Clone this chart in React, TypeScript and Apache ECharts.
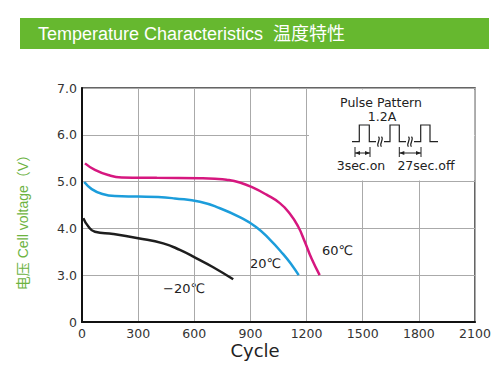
import React, { useEffect, useRef } from "react";
import * as echarts from "echarts";

const titleText = "Temperature Characteristics  温度特性";
const yAxisName = "电压 Cell voltage（V）";
const xAxisName = "Cycle";

// y axis is broken: 0 | 3.0 | 4.0 | 5.0 | 6.0 | 7.0 evenly spaced
const yTickLabels = ["0", "3.0", "4.0", "5.0", "6.0", "7.0"];

const cycles60 = [16, 69, 140, 212, 400, 630, 710, 772, 843, 914, 986, 1057, 1110, 1155, 1190, 1226, 1270];
const volts60 = [5.39, 5.25, 5.14, 5.09, 5.08, 5.07, 5.06, 5.04, 4.98, 4.87, 4.72, 4.54, 4.32, 4.04, 3.72, 3.36, 3.0];

const cycles20 = [12, 52, 105, 176, 300, 407, 496, 630, 737, 843, 930, 1004, 1075, 1119, 1158];
const volts20 = [4.99, 4.84, 4.74, 4.69, 4.68, 4.67, 4.64, 4.57, 4.43, 4.24, 4.03, 3.76, 3.45, 3.23, 3.0];

const cyclesM20 = [7, 34, 69, 167, 300, 434, 523, 612, 701, 808];
const voltsM20 = [4.22, 4.04, 3.93, 3.88, 3.79, 3.68, 3.54, 3.36, 3.17, 2.74];

const seriesNames = ["60℃", "20℃", "−20℃"];
const seriesColors = ["#d6177f", "#1c9ddb", "#1e1e1e"];

const FONT = "'Liberation Sans', 'Noto Sans CJK SC', Arial, sans-serif";
const WIDE = "'DejaVu Sans', 'Noto Sans CJK SC', sans-serif";

function toAxis(v: number): number {
  return v < 3 ? v / 3 : v - 2;
}

function pairs(xs: number[], ys: number[]) {
  return xs.map((x, i) => [x, toAxis(ys[i])]);
}

export default function App() {
  const ref = useRef<HTMLDivElement>(null);

  useEffect(() => {
    if (!ref.current) return;
    const chart = echarts.init(ref.current, undefined, { renderer: "svg" });

    const datasets = [
      pairs(cycles60, volts60),
      pairs(cycles20, volts20),
      pairs(cyclesM20, voltsM20),
    ];

    const baseY = 141.7;
    const topY = 125;
    const waveStyle = { stroke: "#222", lineWidth: 1.2, fill: "none" };
    const breakMark = (x: number) => [
      {
        type: "bezierCurve",
        shape: { x1: x, y1: baseY - 5, x2: x, y2: baseY + 5, cpx1: x + 3, cpy1: baseY - 2, cpx2: x - 3, cpy2: baseY + 2 },
        style: waveStyle,
        z: 11,
      },
      {
        type: "bezierCurve",
        shape: { x1: x + 3, y1: baseY - 5, x2: x + 3, y2: baseY + 5, cpx1: x + 6, cpy1: baseY - 2, cpx2: x, cpy2: baseY + 2 },
        style: waveStyle,
        z: 11,
      },
    ];
    const arrowPair = (x1: number, x2: number) => {
      const y = 153;
      return [
        { type: "line", shape: { x1, y1: 147, x2: x1, y2: 157 }, style: { stroke: "#222", lineWidth: 1 }, z: 11 },
        { type: "line", shape: { x1: x2, y1: 147, x2: x2, y2: 157 }, style: { stroke: "#222", lineWidth: 1 }, z: 11 },
        { type: "line", shape: { x1, y1: y, x2, y2: y }, style: { stroke: "#222", lineWidth: 1 }, z: 11 },
        { type: "polygon", shape: { points: [[x1, y], [x1 + 5, y - 2], [x1 + 5, y + 2]] }, style: { fill: "#222" }, z: 11 },
        { type: "polygon", shape: { points: [[x2, y], [x2 - 5, y - 2], [x2 - 5, y + 2]] }, style: { fill: "#222" }, z: 11 },
      ];
    };

    chart.setOption({
      animation: false,
      backgroundColor: "#ffffff",
      textStyle: { fontFamily: FONT },
      grid: {
        left: 82,
        right: 25,
        top: 88,
        bottom: 50,
        show: true,
        borderColor: "#333",
        borderWidth: 1.5,
      },
      xAxis: {
        type: "value",
        min: 0,
        max: 2100,
        interval: 300,
        axisLine: { show: true, lineStyle: { color: "#111", width: 2 } },
        axisTick: { show: false },
        splitLine: { show: true, lineStyle: { color: "#aaa", width: 1 } },
        axisLabel: {
          color: "#333",
          fontSize: 12.5,
          margin: 5,
          fontFamily: WIDE,
          formatter: (v: number) => String(v),
        },
      },
      yAxis: {
        type: "value",
        min: 0,
        max: 5,
        interval: 1,
        axisLine: { show: true, lineStyle: { color: "#111", width: 2 } },
        axisTick: { show: false },
        splitLine: { show: true, lineStyle: { color: "#aaa", width: 1 } },
        axisLabel: {
          color: "#333",
          fontSize: 12.5,
          margin: 5,
          fontFamily: WIDE,
          formatter: (v: number) => yTickLabels[Math.round(v)] ?? "",
        },
      },
      series: datasets.map((d, i) => ({
        type: "line",
        name: seriesNames[i],
        data: d,
        smooth: 0.5,
        showSymbol: false,
        lineStyle: { color: seriesColors[i], width: 2.5 },
        itemStyle: { color: seriesColors[i] },
        z: 3,
      })),
      graphic: [
        {
          type: "rect",
          shape: { x: 20, y: 18, width: 469, height: 31 },
          style: { fill: "#66b82f" },
        },
        {
          type: "text",
          x: 38,
          y: 34,
          style: { text: titleText, fill: "#ffffff", fontSize: 18, fontFamily: FONT, verticalAlign: "middle", align: "left" },
        },
        {
          type: "text",
          x: 23,
          y: 219,
          rotation: Math.PI / 2,
          style: { text: yAxisName, fill: "#6db33f", fontSize: 14, fontFamily: FONT, align: "center", verticalAlign: "middle" },
        },
        {
          type: "text",
          x: 255,
          y: 350,
          style: { text: xAxisName, fill: "#222", fontSize: 18, fontFamily: WIDE, align: "center", verticalAlign: "middle" },
        },
        {
          type: "text",
          x: 322,
          y: 250,
          style: { text: seriesNames[0], fill: "#222", fontSize: 13, fontFamily: WIDE, align: "left", verticalAlign: "middle" },
        },
        {
          type: "text",
          x: 250,
          y: 263,
          style: { text: seriesNames[1], fill: "#222", fontSize: 13, fontFamily: WIDE, align: "left", verticalAlign: "middle" },
        },
        {
          type: "text",
          x: 163,
          y: 288,
          style: { text: seriesNames[2], fill: "#222", fontSize: 13, fontFamily: WIDE, align: "left", verticalAlign: "middle" },
        },
        // inset: pulse pattern
        {
          type: "rect",
          shape: { x: 309, y: 89.5, width: 165.5, height: 91 },
          style: { fill: "#ffffff" },
          z: 10,
        },
        {
          type: "text",
          x: 381,
          y: 102.5,
          style: { text: "Pulse Pattern", fill: "#222", fontSize: 12.5, fontFamily: WIDE, align: "center", verticalAlign: "middle" },
          z: 11,
        },
        {
          type: "text",
          x: 382,
          y: 116.5,
          style: { text: "1.2A", fill: "#222", fontSize: 12.5, fontFamily: WIDE, align: "center", verticalAlign: "middle" },
          z: 11,
        },
        {
          type: "polyline",
          shape: { points: [[352, baseY], [359.3, baseY], [359.3, topY], [369.3, topY], [369.3, baseY], [376, baseY]] },
          style: waveStyle,
          z: 11,
        },
        {
          type: "polyline",
          shape: { points: [[384, baseY], [390, baseY], [390, topY], [399.3, topY], [399.3, baseY], [406, baseY]] },
          style: waveStyle,
          z: 11,
        },
        {
          type: "polyline",
          shape: { points: [[414, baseY], [420.7, baseY], [420.7, topY], [430, topY], [430, baseY], [438, baseY]] },
          style: waveStyle,
          z: 11,
        },
        ...breakMark(378.5),
        ...breakMark(408.5),
        ...arrowPair(355, 370),
        ...arrowPair(399.3, 421),
        {
          type: "text",
          x: 361,
          y: 165,
          style: { text: "3sec.on", fill: "#222", fontSize: 12.5, fontFamily: WIDE, align: "center", verticalAlign: "middle" },
          z: 11,
        },
        {
          type: "text",
          x: 426,
          y: 165,
          style: { text: "27sec.off", fill: "#222", fontSize: 12.5, fontFamily: WIDE, align: "center", verticalAlign: "middle" },
          z: 11,
        },
      ],
    });

    return () => chart.dispose();
  }, []);

  return (
    <div
      ref={ref}
      style={{ position: "fixed", left: 0, top: 0, width: 500, height: 372, background: "#fff" }}
    />
  );
}
